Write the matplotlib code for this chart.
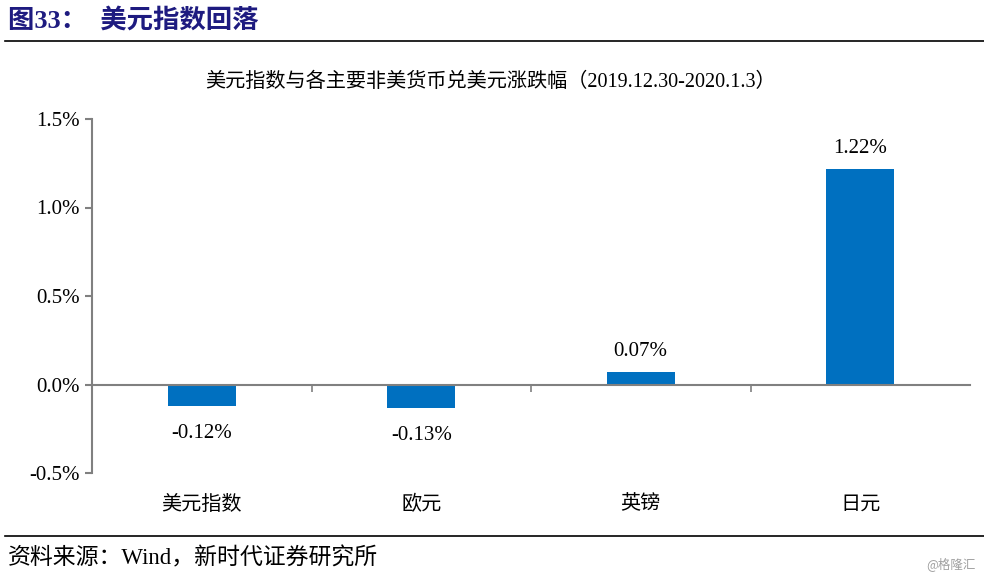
import matplotlib.pyplot as plt
from matplotlib.lines import Line2D
import numpy as np

plt.rcParams['font.family'] = ['Liberation Serif', 'Noto Sans CJK SC']

categories = ['美元指数', '欧元', '英镑', '日元']
changes = [-0.12, -0.13, 0.07, 1.22]
yticks = [-0.5, 0.0, 0.5, 1.0, 1.5]

fig = plt.figure(figsize=(9.84, 5.78), dpi=100)
ax = fig.add_axes([92 / 984, 1 - 473 / 578, (970 - 92) / 984, (473 - 119) / 578])

x = np.arange(len(categories))
ax.bar(x, changes, width=0.31, color='#0070C0', zorder=2)
for xi, v in zip(x, changes):
    if v > 0:
        ax.text(xi, v + 0.06, f'{v:.2f}%', ha='center', va='bottom', fontsize=15)
    else:
        ax.text(xi, v - 0.105, f'{v:.2f}%', ha='center', va='top', fontsize=15)

ax.set_xlim(-0.5, len(categories) - 0.5)
ax.set_ylim(-0.5, 1.5)
ax.set_yticks(yticks)
ax.set_yticklabels([f'{t:.1f}%' for t in yticks])
ax.set_xticks(x)
ax.set_xticklabels(categories)
ax.spines['bottom'].set_position(('data', 0))
ax.spines['bottom'].set_color('#808080')
ax.spines['bottom'].set_linewidth(1.5)
ax.tick_params(axis='x', length=0, pad=80, labelsize=14.5)
ax.set_xticks(np.arange(0.5, len(categories) - 0.5), minor=True)
ax.tick_params(axis='x', which='minor', length=5, width=1.2, color='#808080', direction='out')
ax.tick_params(axis='y', length=5, color='#808080', width=1.5, pad=4, labelsize=15)
for s in ['top', 'right']:
    ax.spines[s].set_visible(False)
ax.spines['left'].set_color('#808080')
ax.spines['left'].set_linewidth(1.5)

fig.text(490 / 984, 1 - 82 / 578, '美元指数与各主要非美货币兑美元涨跌幅（2019.12.30-2020.1.3）',
         ha='center', va='center', fontsize=14.5)
fig.text(8 / 984, 1 - 20 / 578, '图33：  美元指数回落', ha='left', va='center',
         fontsize=19, fontweight='bold', color='#1E1B80')
fig.add_artist(Line2D([5 / 984, 1], [1 - 41 / 578] * 2, color='black', lw=1.2))
fig.add_artist(Line2D([5 / 984, 1], [1 - 536 / 578] * 2, color='black', lw=1.2))
fig.text(8 / 984, 1 - 558 / 578, '资料来源：Wind，新时代证券研究所', ha='left', va='center',
         fontsize=16.5)
fig.text(976 / 984, 1 - 564 / 578, '@格隆汇', ha='right', va='center', fontsize=9,
         color='#A0A0A0', family=['Noto Sans CJK SC'])

fig.savefig('out.png', dpi=100)
